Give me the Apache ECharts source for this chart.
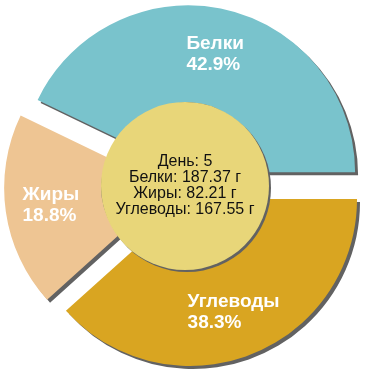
<!DOCTYPE html>
<html><head><meta charset="utf-8">
<script src="https://cdn.jsdelivr.net/npm/echarts@6/dist/echarts.min.js"></script>
<style>html,body{margin:0;padding:0;background:#fff}#c{width:370px;height:370px}</style>
</head><body><div id="c"></div>
<script>
var categories = ['Белки', 'Жиры', 'Углеводы'];
var grams = [187.37, 82.21, 167.55];
var percents = [42.9, 18.8, 38.3];
var colors = ['#79c3cc', '#eec593', '#d9a521'];
var dayLabel = 'День: 5';

var chart = echarts.init(document.getElementById('c'), null, {renderer: 'canvas'});
var centerText = [dayLabel].concat(categories.map(function (c, i) { return c + ': ' + grams[i].toFixed(2) + ' г'; })).join('\n');
var lblStyle = {align: 'left', color: '#fff', fontWeight: 'bold', fontSize: 19, lineHeight: 21, fontFamily: 'Liberation Sans, Arial, sans-serif'};
chart.setOption({
  animation: false,
  series: [{
    type: 'pie',
    center: [185, 186],
    radius: [70, 167],
    startAngle: 0,
    clockwise: false,
    selectedMode: 'multiple',
    selectedOffset: 14,
    silent: true,
    emphasis: {disabled: true, scale: false},
    select: {itemStyle: {}},
    itemStyle: {shadowColor: '#626262', shadowOffsetX: 3, shadowOffsetY: 3, shadowBlur: 0},
    label: {
      position: 'inside',
      color: '#fff',
      fontWeight: 'bold',
      fontSize: 19,
      lineHeight: 21,
      fontFamily: 'Liberation Sans, Arial, sans-serif',
      formatter: function (p) { return '{a|' + p.name + '}\n{a|' + percents[p.dataIndex].toFixed(1) + '%}'; },
      rich: {a: lblStyle}
    },
    labelLine: {show: false},
    data: categories.map(function (c, i) {
      return {name: c, value: grams[i], selected: true, itemStyle: {color: colors[i]}};
    })
  }, {
    type: 'pie',
    z: 5,
    center: [185, 186],
    radius: [0, 84],
    silent: true,
    emphasis: {disabled: true, scale: false},
    itemStyle: {color: '#e8d679', shadowColor: '#626262', shadowOffsetX: 2, shadowOffsetY: 2, shadowBlur: 0},
    label: {
      position: 'center',
      color: '#111',
      fontSize: 16,
      lineHeight: 16,
      fontFamily: 'Liberation Sans, Arial, sans-serif',
      formatter: function () { return centerText; }
    },
    labelLine: {show: false},
    data: [{name: 'center', value: 1}]
  }]
});
</script></body></html>
